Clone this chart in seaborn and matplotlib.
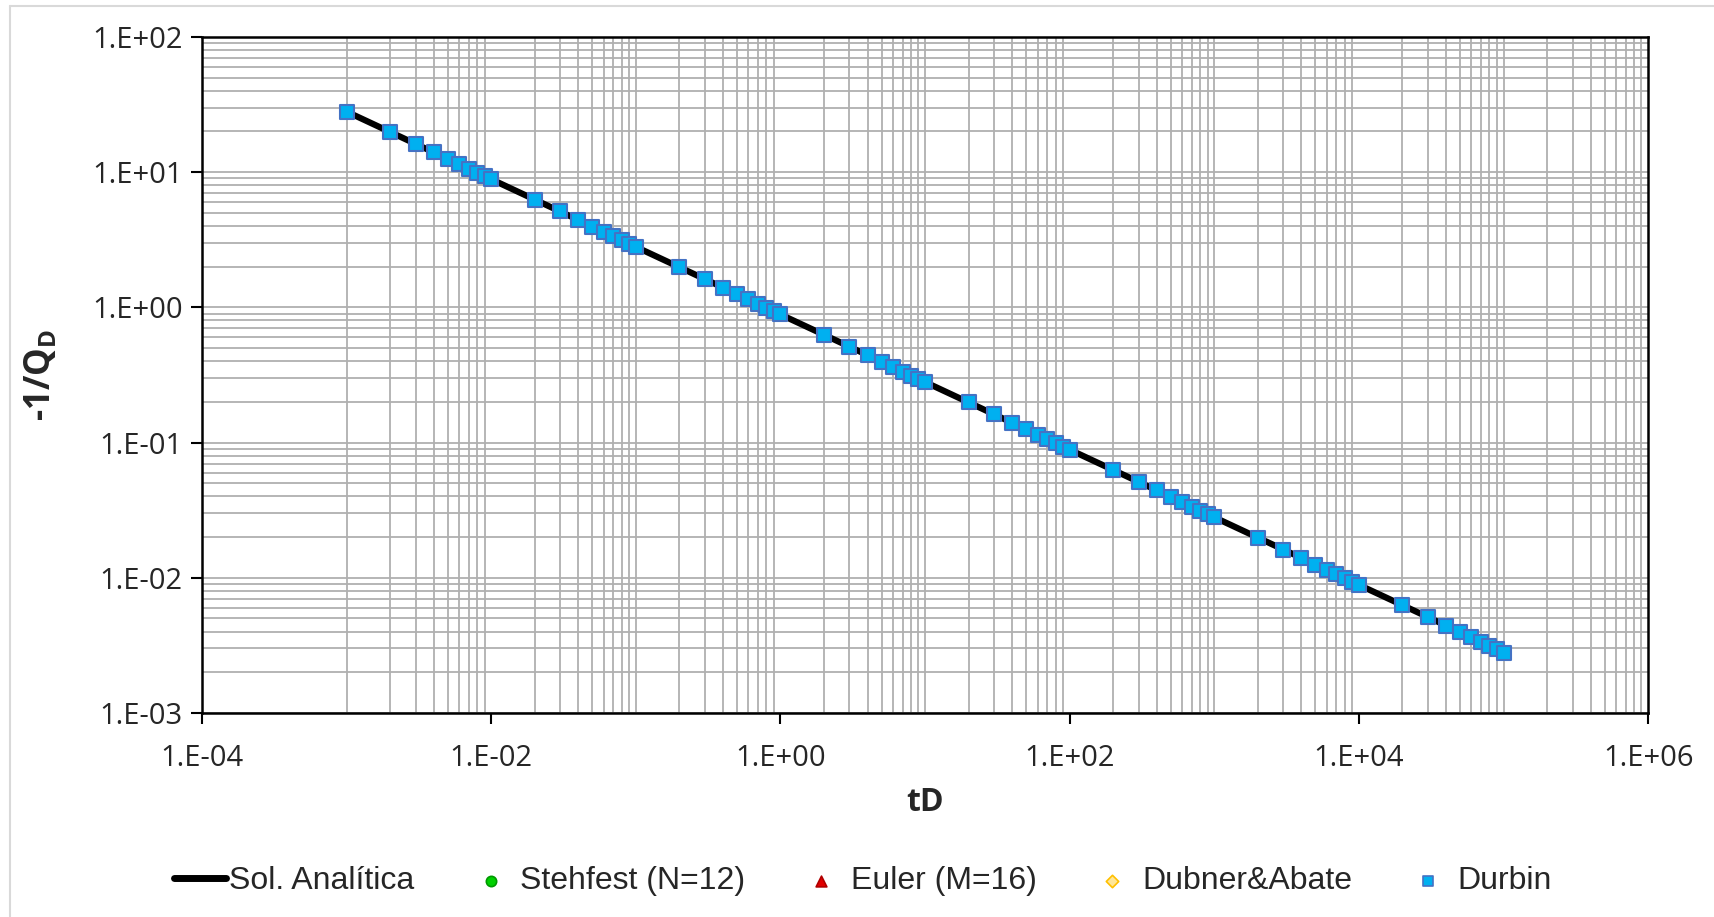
import math
import matplotlib
matplotlib.use("Agg")
import matplotlib.pyplot as plt
import matplotlib.ticker as mticker
import matplotlib.lines as mlines
import matplotlib.collections as mcoll
import pandas as pd
import seaborn as sns

# tiempo adimensional (1,2,...,9 por década)
td = [1e-3, 2e-3, 3e-3, 4e-3, 5e-3, 6e-3, 7e-3, 8e-3, 9e-3,
      1e-2, 2e-2, 3e-2, 4e-2, 5e-2, 6e-2, 7e-2, 8e-2, 9e-2,
      1e-1, 2e-1, 3e-1, 4e-1, 5e-1, 6e-1, 7e-1, 8e-1, 9e-1,
      1e0, 2e0, 3e0, 4e0, 5e0, 6e0, 7e0, 8e0, 9e0,
      1e1, 2e1, 3e1, 4e1, 5e1, 6e1, 7e1, 8e1, 9e1,
      1e2, 2e2, 3e2, 4e2, 5e2, 6e2, 7e2, 8e2, 9e2,
      1e3, 2e3, 3e3, 4e3, 5e3, 6e3, 7e3, 8e3, 9e3,
      1e4, 2e4, 3e4, 4e4, 5e4, 6e4, 7e4, 8e4, 9e4,
      1e5]

# -1/QD
qd = [28.02, 19.82, 16.18, 14.01, 12.53, 11.44, 10.59, 9.91, 9.34,
      8.862, 6.267, 5.117, 4.431, 3.963, 3.618, 3.350, 3.133, 2.954,
      2.802, 1.982, 1.618, 1.401, 1.253, 1.144, 1.059, 0.991, 0.934,
      0.886, 0.627, 0.512, 0.443, 0.396, 0.362, 0.335, 0.313, 0.295,
      0.2802, 0.1982, 0.1618, 0.1401, 0.1253, 0.1144, 0.1059, 0.0991, 0.0934,
      0.0886, 0.0627, 0.0512, 0.0443, 0.0396, 0.0362, 0.0335, 0.0313, 0.0295,
      0.02802, 0.01982, 0.01618, 0.01401, 0.01253, 0.01144, 0.01059, 0.00991, 0.00934,
      0.00886, 0.00627, 0.00512, 0.00443, 0.00396, 0.00362, 0.00335, 0.00313, 0.00295,
      0.00280]

series = ["Stehfest (N=12)", "Euler (M=16)", "Dubner&Abate", "Durbin"]

x_ticks = [1e-4, 1e-2, 1e0, 1e2, 1e4, 1e6]
y_ticks = [1e-3, 1e-2, 1e-1, 1e0, 1e1, 1e2]

df = pd.DataFrame({"tD": td, "QD": qd})

sns.set_style("white")
plt.rcParams['font.family'] = ['Open Sans', 'DejaVu Sans']
plt.rcParams['mathtext.fontset'] = 'custom'
plt.rcParams['mathtext.bf'] = 'Open Sans:bold'
plt.rcParams['mathtext.rm'] = 'Open Sans'

fig = plt.figure(figsize=(17.15, 9.17), dpi=100)
ax = fig.add_axes([0.1178, 0.2225, 0.961 - 0.1178, 0.9597 - 0.2225])

# borde del área del gráfico
fig.add_artist(mlines.Line2D([10 / 1715, 10 / 1715], [0, 1 - 6 / 917],
                             color='#D9D9D9', lw=1.5, transform=fig.transFigure))
fig.add_artist(mlines.Line2D([10 / 1715, 1], [1 - 6 / 917, 1 - 6 / 917],
                             color='#D9D9D9', lw=1.5, transform=fig.transFigure))

sns.lineplot(data=df, x="tD", y="QD", ax=ax, color='black', lw=4.5, zorder=3,
             label="Sol. Analítica")

estilos = {
    "Stehfest (N=12)": dict(marker='o', color='#00D000', edgecolor='#009900', s=45, sl=55),
    "Euler (M=16)": dict(marker='^', color='#E00000', edgecolor='#B00000', s=50, sl=60),
    "Dubner&Abate": dict(marker='D', color='#FFE699', edgecolor='#FFC000', s=35, sl=40),
    "Durbin": dict(marker='s', color='#00B0F0', edgecolor='#4472C4', s=95, sl=60),
}
for i, nombre in enumerate(series):
    e = estilos[nombre]
    sns.scatterplot(data=df, x="tD", y="QD", ax=ax, marker=e['marker'],
                    color=e['color'], edgecolor=e['edgecolor'], s=e['s'],
                    linewidth=1.5, zorder=4 + i, label=nombre)

ax.set_xscale('log')
ax.set_yscale('log')
ax.set_xlim(x_ticks[0], x_ticks[-1])
ax.set_ylim(y_ticks[0], y_ticks[-1])

fmt = mticker.FuncFormatter(lambda v, p: "1.E{:+03d}".format(int(round(math.log10(v)))))
ax.xaxis.set_major_locator(mticker.FixedLocator(x_ticks))
ax.yaxis.set_major_locator(mticker.FixedLocator(y_ticks))
ax.xaxis.set_major_formatter(fmt)
ax.yaxis.set_major_formatter(fmt)
# la cuadrícula vertical empieza en 1E-03 (como en Excel)
ax.xaxis.set_minor_locator(mticker.FixedLocator(
    [k * 10.0 ** n for n in range(-3, 6) for k in range(1, 10)]))
ax.yaxis.set_minor_locator(mticker.LogLocator(base=10, subs=[1, 2, 3, 4, 5, 6, 7, 8, 9], numticks=30))
ax.xaxis.set_minor_formatter(mticker.NullFormatter())
ax.yaxis.set_minor_formatter(mticker.NullFormatter())

ax.grid(True, which='minor', color='#B0B0B0', lw=1.3)
ax.grid(True, which='major', axis='y', color='#B0B0B0', lw=1.3)
ax.set_axisbelow(True)
ax.tick_params(which='major', direction='out', length=8, width=1.5, color='black',
               labelsize=21, pad=6, bottom=True, left=True)
ax.tick_params(axis='x', pad=14)
ax.tick_params(which='minor', length=0)
for s in ax.spines.values():
    s.set_color('black')
    s.set_linewidth(1.8)

ax.set_xlabel("tD", fontsize=23, fontweight='bold', labelpad=10)
ax.set_ylabel(r"-1/Q$_\mathbf{D}$", fontsize=25, fontweight='bold', labelpad=24)

handles, labels = ax.get_legend_handles_labels()
ax.get_legend().remove()
leg = fig.legend(handles, labels, loc='center', bbox_to_anchor=(0.503, 0.039),
                 ncol=5, frameon=False, prop={'family': 'Liberation Sans', 'size': 23},
                 handlelength=1.65, handletextpad=0.1, columnspacing=1.55)
for h, lab in zip(leg.legend_handles, labels):
    if isinstance(h, mlines.Line2D):
        h.set_linewidth(5)
    elif isinstance(h, mcoll.PathCollection):
        h.set_sizes([estilos[lab]['sl']])
        h.set_linewidth(1.2)

fig.savefig("out.png", dpi=100)
